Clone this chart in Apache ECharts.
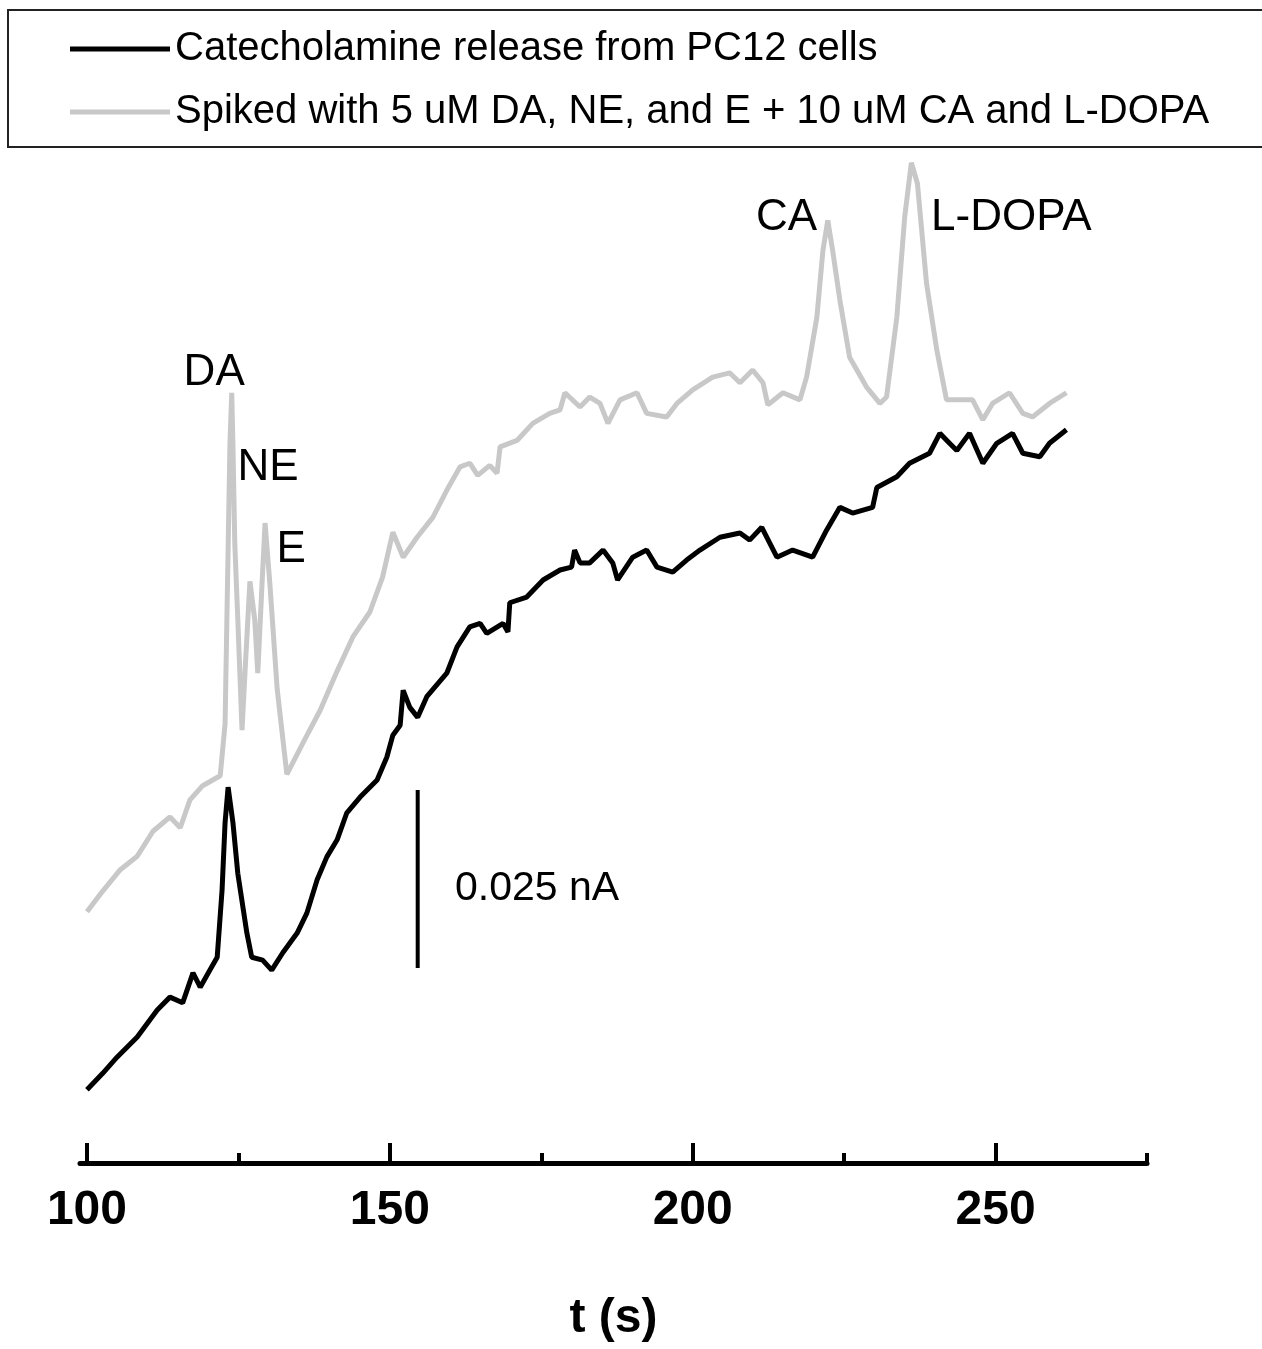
<!DOCTYPE html>
<html>
<head>
<meta charset="utf-8">
<script src="https://cdn.jsdelivr.net/npm/echarts@6/dist/echarts.min.js"></script>
<style>
  html, body { margin: 0; padding: 0; background: #fff; }
  #chart { width: 1262px; height: 1349px; }
</style>
</head>
<body>
<div id="chart"></div>
<script>
// time in s, current in pA (scale bar = 25 pA = 0.025 nA)
const blackTime = [100.0, 102.6, 105.0, 108.3, 111.6, 113.7, 115.8, 117.5, 118.7, 120.3, 121.5, 122.3, 122.8, 123.3, 124.1, 124.9, 126.4, 127.2, 129.0, 130.5, 132.3, 134.7, 136.3, 138.0, 139.6, 141.3, 142.9, 145.1, 147.9, 149.5, 150.5, 151.7, 152.2, 153.3, 154.6, 156.1, 159.4, 161.1, 163.2, 164.9, 166.0, 168.7, 169.5, 169.8, 172.6, 175.3, 178.1, 180.0, 180.5, 181.4, 183.0, 185.2, 186.8, 187.6, 190.1, 192.4, 194.1, 196.7, 199.0, 201.2, 204.5, 207.8, 209.4, 211.4, 213.9, 216.5, 219.8, 222.1, 224.3, 226.4, 229.7, 230.4, 233.7, 235.8, 239.1, 240.8, 242.4, 243.6, 245.7, 247.9, 250.2, 252.8, 254.5, 257.3, 258.9, 261.7];
const blackCurrent = [10.3, 12.6, 14.9, 17.7, 21.5, 23.3, 22.5, 26.7, 24.7, 27.1, 28.9, 38.3, 47.8, 52.8, 47.8, 40.7, 32.3, 28.9, 28.5, 27.1, 29.5, 32.3, 35.1, 39.8, 43.0, 45.4, 49.2, 51.4, 53.8, 57.0, 60.1, 61.5, 66.4, 64.0, 62.6, 65.5, 68.8, 72.5, 75.3, 75.8, 74.4, 75.8, 74.6, 78.7, 79.5, 81.9, 83.3, 83.7, 86.1, 84.3, 84.3, 86.1, 84.3, 81.9, 85.1, 86.1, 83.7, 83.0, 84.7, 86.1, 87.9, 88.5, 87.5, 89.3, 85.1, 86.1, 85.1, 88.9, 92.1, 91.3, 92.1, 94.9, 96.4, 98.3, 99.7, 102.5, 101.1, 100.1, 102.5, 98.3, 101.1, 102.5, 99.7, 99.2, 101.1, 103.0];

const grayTime = [100.0, 102.6, 105.5, 108.3, 110.9, 113.7, 115.4, 117.0, 119.1, 122.0, 122.8, 123.1, 123.3, 123.6, 123.9, 124.1, 124.4, 124.9, 125.6, 126.1, 126.9, 127.7, 128.2, 128.9, 129.4, 130.2, 131.4, 133.0, 135.6, 138.5, 141.3, 143.9, 146.7, 148.8, 150.5, 152.2, 154.5, 157.1, 159.4, 161.6, 163.2, 164.5, 166.5, 167.7, 168.2, 171.0, 173.6, 176.4, 178.1, 178.9, 181.4, 183.0, 184.7, 186.0, 188.0, 190.8, 192.4, 195.7, 197.4, 200.0, 203.3, 206.1, 207.8, 209.9, 211.6, 212.4, 214.9, 217.7, 218.8, 220.5, 221.5, 222.3, 223.1, 224.3, 225.9, 228.7, 230.9, 232.0, 233.7, 235.0, 236.1, 237.1, 238.6, 240.3, 241.9, 244.6, 246.2, 247.9, 249.5, 252.3, 254.5, 256.1, 258.9, 261.7];
const grayCurrent = [35.3, 38.2, 41.2, 43.1, 46.6, 48.6, 47.1, 51.0, 53.0, 54.4, 61.7, 76.4, 86.1, 100.8, 108.2, 100.8, 87.1, 76.4, 60.8, 69.1, 81.7, 76.3, 68.8, 81.3, 89.9, 81.3, 66.6, 54.6, 58.9, 63.6, 69.1, 73.9, 77.4, 82.3, 88.6, 85.1, 87.9, 90.7, 94.5, 97.8, 98.3, 96.6, 98.0, 96.9, 100.6, 101.5, 103.9, 105.3, 105.8, 108.2, 106.2, 107.6, 106.7, 103.9, 107.2, 108.2, 105.3, 104.8, 106.7, 108.6, 110.4, 111.0, 109.6, 111.4, 109.6, 106.5, 108.2, 107.2, 110.4, 118.8, 128.2, 132.4, 128.2, 121.2, 113.2, 109.0, 106.7, 107.6, 118.8, 132.9, 140.5, 137.6, 123.6, 114.2, 107.2, 107.2, 107.2, 104.4, 106.7, 108.2, 105.3, 104.8, 106.7, 108.2];

const seriesNames = ['Catecholamine release from PC12 cells', 'Spiked with 5 uM DA, NE, and E + 10 uM CA and L-DOPA'];
const majorTicks = [100, 150, 200, 250];
const minorTicks = [125, 175, 225, 275];

// peak labels and scale bar text: [text, t, current]
const peakLabels = [
  ['DA', 121.0, 111.0],
  ['NE', 129.9, 97.6],
  ['E', 133.7, 86.2],
  ['CA', 215.5, 132.7],
  ['L-DOPA', 252.6, 132.7],
  ['0.025 nA', 174.3, 38.5]
];
const scaleBarTime = 154.6;
const scaleBarCurrent = [27.4, 52.4];

const font = "'Liberation Sans', Arial, sans-serif";

const zip = (xs, ys) => xs.map((x, i) => [x, ys[i]]);

const chart = echarts.init(document.getElementById('chart'));

const option = {
  animation: false,
  backgroundColor: '#fff',
  legend: {
    data: seriesNames,
    orient: 'vertical',
    left: 8,
    top: 10,
    padding: [15, 300, 11, 62],
    itemGap: 15,
    itemWidth: 100,
    itemHeight: 5,
    icon: 'rect',
    borderColor: '#222',
    borderWidth: 2,
    selectedMode: false,
    textStyle: { fontFamily: font, fontSize: 40, lineHeight: 48, color: '#000' }
  },
  grid: {
    left: 80,
    right: 115,
    top: 150,
    bottom: 186,
    containLabel: false,
    outerBoundsMode: 'none'
  },
  xAxis: [
    {
      type: 'value',
      min: 98.85,
      max: 275,
      name: 't (s)',
      nameLocation: 'middle',
      nameGap: 132,
      nameTextStyle: { fontFamily: font, fontSize: 48, fontWeight: 'bold', color: '#000' },
      axisLine: { show: true, lineStyle: { color: '#000', width: 5 } },
      axisTick: { show: true, inside: true, length: 20, customValues: majorTicks, lineStyle: { color: '#000', width: 4 } },
      axisLabel: { show: true, customValues: majorTicks, margin: 24, fontFamily: font, fontSize: 48, fontWeight: 'bold', color: '#000' },
      splitLine: { show: false }
    },
    {
      type: 'value',
      position: 'bottom',
      offset: 0,
      min: 98.85,
      max: 275,
      axisLine: { show: false },
      axisTick: { show: true, inside: true, length: 10, customValues: minorTicks, lineStyle: { color: '#000', width: 4 } },
      axisLabel: { show: false },
      splitLine: { show: false }
    }
  ],
  yAxis: {
    type: 'value',
    min: 0,
    max: 142.3,
    show: false
  },
  series: [
    {
      name: seriesNames[1],
      type: 'line',
      data: zip(grayTime, grayCurrent),
      showSymbol: false,
      itemStyle: { color: '#c8c8c8' },
      lineStyle: { color: '#c8c8c8', width: 5 }
    },
    {
      name: seriesNames[0],
      type: 'line',
      data: zip(blackTime, blackCurrent),
      showSymbol: false,
      itemStyle: { color: '#000' },
      lineStyle: { color: '#000', width: 5 }
    },
    {
      name: 'scale bar',
      type: 'line',
      data: scaleBarCurrent.map(v => [scaleBarTime, v]),
      showSymbol: false,
      silent: true,
      lineStyle: { color: '#000', width: 4 }
    },
    {
      name: 'labels',
      type: 'scatter',
      symbolSize: 0,
      silent: true,
      itemStyle: { color: '#000', opacity: 1 },
      data: peakLabels.map(p => ({
        name: p[0],
        value: [p[1], p[2]],
        label: p[0] === '0.025 nA' ? { fontSize: 41 } : undefined
      })),
      label: {
        show: true,
        position: [0, 0],
        align: 'center',
        verticalAlign: 'middle',
        formatter: p => p.name,
        fontFamily: font,
        fontSize: 44,
        color: '#000',
        opacity: 1,
        textBorderWidth: 0
      }
    }
  ]
};

chart.setOption(option);
</script>
</body>
</html>
